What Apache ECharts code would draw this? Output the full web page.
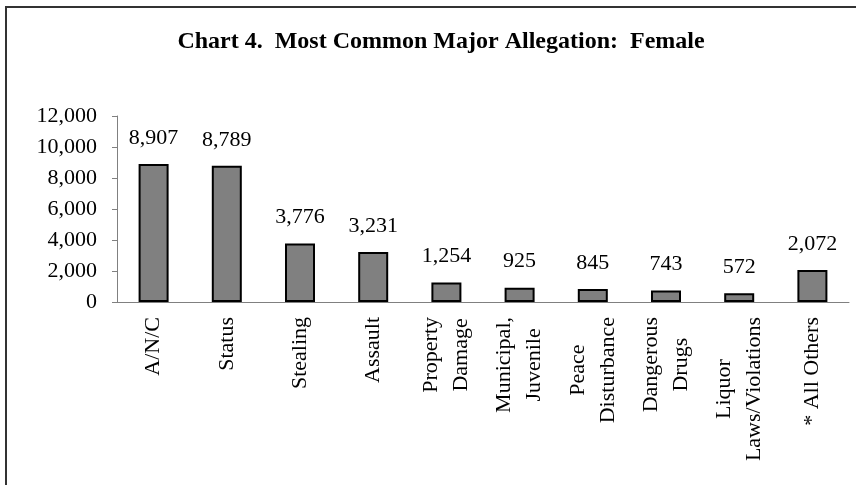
<!DOCTYPE html>
<html>
<head>
<meta charset="utf-8">
<script src="https://cdn.jsdelivr.net/npm/echarts@6/dist/echarts.min.js"></script>
<style>
  html, body { margin: 0; padding: 0; background: #fff; }
  #chart { width: 856px; height: 485px; }
</style>
</head>
<body>
<div id="chart"></div>
<script>
  var categories = ['A/N/C', 'Status', 'Stealing', 'Assault', 'Property\nDamage',
    'Municipal,\nJuvenile', 'Peace\nDisturbance', 'Dangerous\nDrugs',
    'Liquor\nLaws/Violations', '* All Others'];
  var counts = [8907, 8789, 3776, 3231, 1254, 925, 845, 743, 572, 2072];

  var serif = '"Liberation Serif", "Times New Roman", serif';

  function commas(v) {
    return String(v).replace(/\B(?=(\d{3})+(?!\d))/g, ',');
  }

  var myChart = echarts.init(document.getElementById('chart'));
  var option = {
    animation: false,
    backgroundColor: '#fff',
    graphic: [
      {
        type: 'rect',
        shape: { x: 6, y: 7, width: 900, height: 600 },
        style: { fill: 'none', stroke: '#333', lineWidth: 2 }
      },
      {
        type: 'text',
        x: 441, y: 42,
        style: {
          text: 'Chart 4.  Most Common Major Allegation:  Female',
          font: 'bold 24px ' + serif,
          fill: '#000',
          textAlign: 'center',
          textVerticalAlign: 'middle'
        }
      }
    ],
    grid: {
      left: 117,
      right: 7,
      top: 116,
      bottom: 183
    },
    xAxis: {
      type: 'category',
      data: categories,
      axisLine: { lineStyle: { color: '#808080', width: 1 } },
      axisTick: { length: 5, lineStyle: { color: '#808080' } },
      axisLabel: {
        rotate: 90,
        interval: 0,
        margin: 15,
        color: '#000',
        fontFamily: serif,
        fontSize: 22,
        lineHeight: 30,
        // each line centred inside its label block
        formatter: function (v) {
          return v.split('\n').map(function (s) { return '{c|' + s + '}'; }).join('\n');
        },
        rich: {
          c: { align: 'center', fontFamily: serif, fontSize: 22, lineHeight: 30, color: '#000' }
        }
      }
    },
    yAxis: {
      type: 'value',
      min: 0,
      max: 12000,
      interval: 2000,
      splitLine: { show: false },
      axisLine: { show: true, lineStyle: { color: '#808080', width: 1 } },
      axisTick: { show: true, length: 5, lineStyle: { color: '#808080' } },
      axisLabel: {
        margin: 20,
        color: '#000',
        fontFamily: serif,
        fontSize: 22,
        formatter: function (v) { return commas(v); }
      }
    },
    series: [
      {
        type: 'bar',
        data: counts,
        barWidth: 30,
        itemStyle: { color: '#808080', borderColor: '#000', borderWidth: 2 },
        label: {
          show: true,
          position: 'top',
          distance: 15,
          color: '#000',
          fontFamily: serif,
          fontSize: 22,
          formatter: function (p) { return commas(p.value); }
        }
      }
    ]
  };
  myChart.setOption(option);
</script>
</body>
</html>
